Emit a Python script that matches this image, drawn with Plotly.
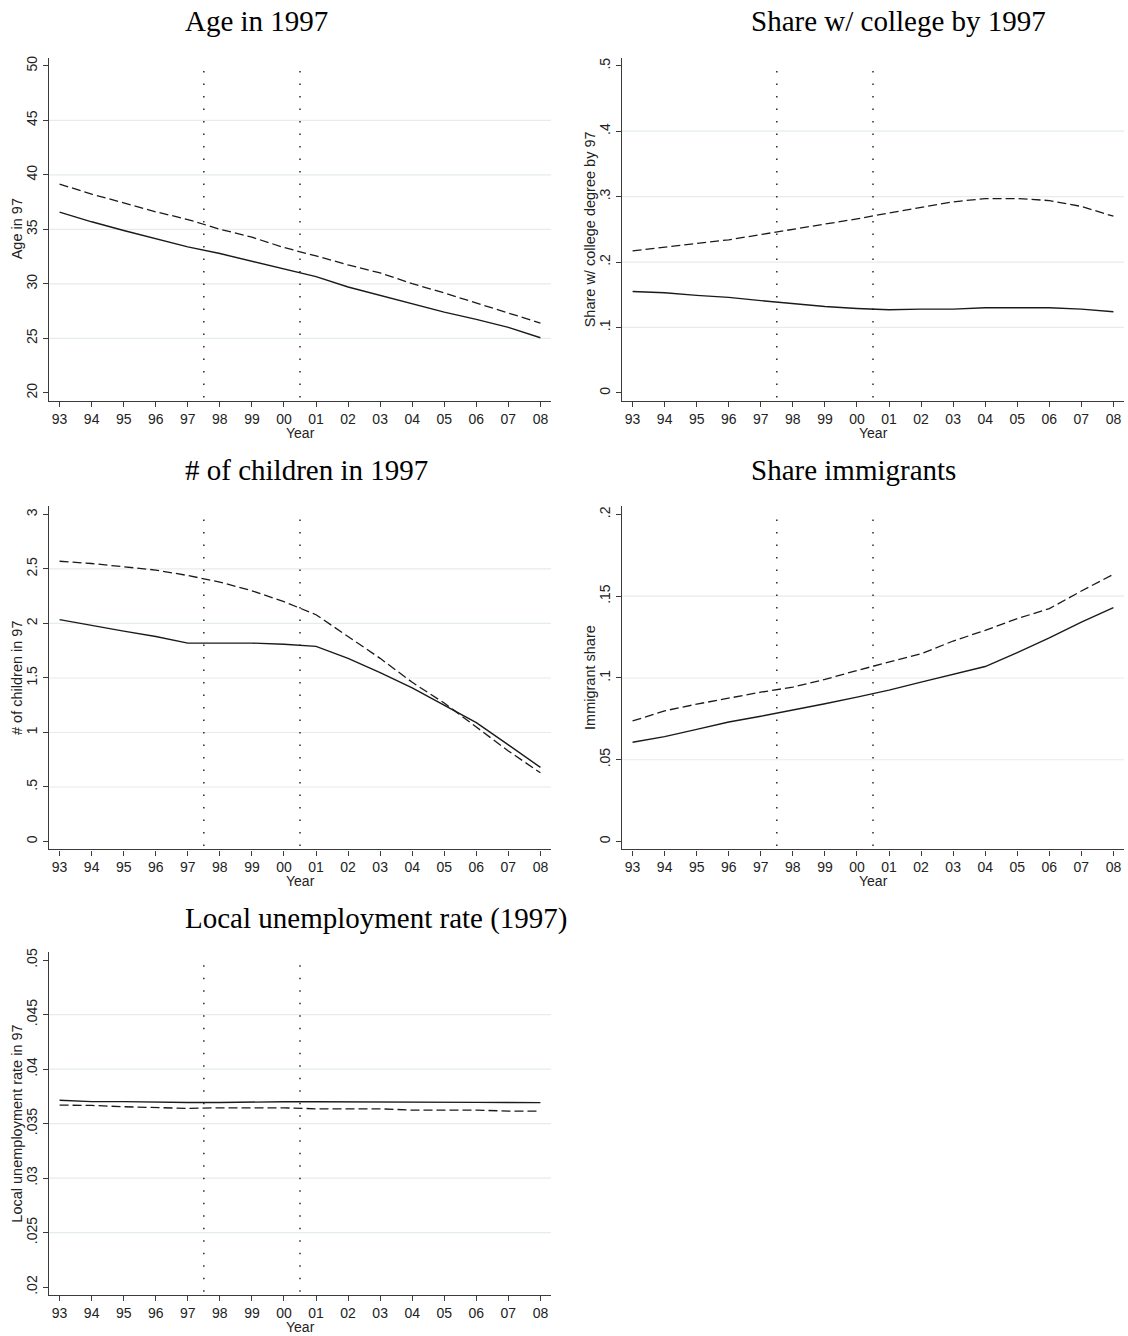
import plotly.graph_objects as go

# Survey years 1993-2008; 00..08 are stored as 100..108 so the axis stays numeric
years = list(range(93, 109))
year_labels = ["93", "94", "95", "96", "97", "98", "99", "00",
               "01", "02", "03", "04", "05", "06", "07", "08"]

# Policy window markers
window_start = 97.5
window_end = 100.5

# Age in 1997
age_solid = [36.58, 35.69, 34.89, 34.12, 33.39, 32.78, 32.07, 31.37,
             30.66, 29.71, 28.95, 28.18, 27.41, 26.74, 26.00, 25.05]
age_dashed = [39.15, 38.23, 37.43, 36.61, 35.90, 35.01, 34.28, 33.33,
              32.56, 31.73, 31.00, 30.02, 29.16, 28.24, 27.38, 26.40]
age_ticks = [20, 25, 30, 35, 40, 45, 50]
age_tick_text = ["20", "25", "30", "35", "40", "45", "50"]

# Share with college degree by 1997
college_solid = [0.155, 0.153, 0.149, 0.146, 0.141, 0.136, 0.132, 0.129,
                 0.127, 0.128, 0.128, 0.130, 0.130, 0.130, 0.128, 0.124]
college_dashed = [0.217, 0.223, 0.229, 0.234, 0.242, 0.250, 0.257, 0.266,
                  0.275, 0.284, 0.292, 0.297, 0.297, 0.294, 0.285, 0.270]
college_ticks = [0, 0.1, 0.2, 0.3, 0.4, 0.5]
college_tick_text = ["0", ".1", ".2", ".3", ".4", ".5"]

# Number of children in 1997
children_solid = [2.035, 1.98, 1.93, 1.88, 1.82, 1.82, 1.82, 1.81,
                  1.79, 1.68, 1.55, 1.41, 1.25, 1.09, 0.886, 0.68]
children_dashed = [2.571, 2.55, 2.52, 2.49, 2.44, 2.38, 2.30, 2.20,
                   2.08, 1.88, 1.68, 1.46, 1.27, 1.05, 0.83, 0.63]
children_ticks = [0, 0.5, 1, 1.5, 2, 2.5, 3]
children_tick_text = ["0", ".5", "1", "1.5", "2", "2.5", "3"]

# Immigrant share
immig_solid = [0.0607, 0.0641, 0.0686, 0.0731, 0.0766, 0.0803, 0.0842, 0.0883,
               0.0926, 0.0975, 0.1024, 0.1070, 0.1155, 0.1245, 0.1342, 0.1430]
immig_dashed = [0.0737, 0.0799, 0.0840, 0.0876, 0.0913, 0.0944, 0.0991, 0.1046,
                0.1097, 0.1148, 0.1226, 0.1291, 0.1363, 0.1424, 0.1532, 0.1634]
immig_ticks = [0, 0.05, 0.1, 0.15, 0.2]
immig_tick_text = ["0", ".05", ".1", ".15", ".2"]

# Local unemployment rate in 1997
unemp_solid = [0.03715, 0.03702, 0.03702, 0.03695, 0.03694, 0.03694, 0.03700, 0.03701,
               0.03701, 0.03701, 0.03701, 0.03701, 0.03701, 0.03695, 0.03694, 0.03693]
unemp_dashed = [0.03670, 0.03667, 0.03655, 0.03650, 0.03640, 0.03645, 0.03645, 0.03645,
                0.03636, 0.03636, 0.03636, 0.03624, 0.03624, 0.03624, 0.03615, 0.03615]
unemp_ticks = [0.02, 0.025, 0.03, 0.035, 0.04, 0.045, 0.05]
unemp_tick_text = [".02", ".025", ".03", ".035", ".04", ".045", ".05"]

panels = [
    dict(title="Age in 1997", ytitle="Age in 97",
         solid=age_solid, dashed=age_dashed, ticks=age_ticks, text=age_tick_text),
    dict(title="Share w/ college by 1997", ytitle="Share w/ college degree by 97",
         solid=college_solid, dashed=college_dashed, ticks=college_ticks, text=college_tick_text),
    dict(title="# of children in 1997", ytitle="# of children in 97",
         solid=children_solid, dashed=children_dashed, ticks=children_ticks, text=children_tick_text),
    dict(title="Share immigrants", ytitle="Immigrant share",
         solid=immig_solid, dashed=immig_dashed, ticks=immig_ticks, text=immig_tick_text),
    dict(title="Local unemployment rate (1997)", ytitle="Local unemployment rate in 97",
         solid=unemp_solid, dashed=unemp_dashed, ticks=unemp_ticks, text=unemp_tick_text),
]

W, H = 1128, 1336
col_left = [49, 622]      # plot-area left edge per column (px)
plot_w = 502
row_top = [54, 504, 951]  # plot-area top edge per row (px)
plot_h = 344
title_x = [183, 749]
title_y = [17, 467, 917]

INK = "#1a1a1a"
AXIS = "#3a3a3a"
GRID = "#e4eced"
SANS = "Liberation Sans, Arial, sans-serif"
SERIF = "Liberation Serif, Times New Roman, serif"

x_pad = 0.33
x_range = [years[0] - x_pad, years[-1] + x_pad]

fig = go.Figure()
layout = dict(
    width=W, height=H,
    margin=dict(l=0, r=0, t=0, b=0),
    paper_bgcolor="white", plot_bgcolor="white",
    showlegend=False,
    shapes=[], annotations=[],
)

for i, p in enumerate(panels):
    row, col = divmod(i, 2)
    n = i + 1
    xa = "xaxis" if n == 1 else f"xaxis{n}"
    ya = "yaxis" if n == 1 else f"yaxis{n}"
    xr = "x" if n == 1 else f"x{n}"
    yr = "y" if n == 1 else f"y{n}"

    x0 = col_left[col]
    y0 = row_top[row]
    lo, hi = p["ticks"][0], p["ticks"][-1]
    pad = (hi - lo) * 8 / 328

    layout[xa] = dict(
        domain=[x0 / W, (x0 + plot_w) / W], anchor=yr,
        range=x_range, tickmode="array", tickvals=years, ticktext=year_labels,
        ticks="outside", ticklen=5, tickwidth=1, tickcolor=AXIS,
        showline=True, linecolor=AXIS, linewidth=1.2,
        showgrid=False, zeroline=False,
        tickfont=dict(family=SANS, size=14, color="#222"),
    )
    layout[ya] = dict(
        domain=[1 - (y0 + plot_h) / H, 1 - y0 / H], anchor=xr,
        range=[lo - pad, hi + pad], tickmode="array",
        tickvals=p["ticks"], ticktext=p["text"], tickangle=-90,
        ticks="outside", ticklen=5, tickwidth=1, tickcolor=AXIS,
        showline=True, linecolor=AXIS, linewidth=1.2,
        showgrid=False, zeroline=False,
        tickfont=dict(family=SANS, size=14, color="#222"),
    )

    # horizontal grid on interior ticks only
    for v in p["ticks"][1:-1]:
        layout["shapes"].append(dict(
            type="line", xref=f"{xr} domain", yref=yr, x0=0, x1=1, y0=v, y1=v,
            line=dict(color=GRID, width=1.2), layer="below"))

    # dotted window markers
    for xv in (window_start, window_end):
        layout["shapes"].append(dict(
            type="line", xref=xr, yref=f"{yr} domain", x0=xv, x1=xv, y0=0.01, y1=0.99,
            line=dict(color=INK, width=1.4, dash="1.5px,11px"), layer="above"))

    fig.add_trace(go.Scatter(x=years, y=p["solid"], mode="lines", xaxis=xr, yaxis=yr,
                             line=dict(color=INK, width=1.4), hoverinfo="skip"))
    fig.add_trace(go.Scatter(x=years, y=p["dashed"], mode="lines", xaxis=xr, yaxis=yr,
                             line=dict(color=INK, width=1.3, dash="9px,4px"), hoverinfo="skip"))

    # panel title
    layout["annotations"].append(dict(
        text=p["title"], xref="paper", yref="paper",
        x=title_x[col] / W, y=1 - title_y[row] / H, xanchor="left", yanchor="middle",
        showarrow=False, font=dict(family=SERIF, size=29, color="black")))
    # y-axis title
    layout["annotations"].append(dict(
        text=p["ytitle"], xref="paper", yref="paper", textangle=-90,
        x=(x0 - 32) / W, y=1 - (y0 + plot_h / 2) / H, xanchor="center", yanchor="middle",
        showarrow=False, font=dict(family=SANS, size=14.5, color="#222")))
    # x-axis title (kept inside the page at the bottom row)
    year_y = min(y0 + plot_h + 32, H - 9)
    layout["annotations"].append(dict(
        text="Year", xref="paper", yref="paper", borderpad=0,
        x=(x0 + plot_w / 2) / W, y=1 - year_y / H, xanchor="center", yanchor="middle",
        showarrow=False, font=dict(family=SANS, size=14, color="#222")))

fig.update_layout(**layout)
fig.write_html("out.html")
